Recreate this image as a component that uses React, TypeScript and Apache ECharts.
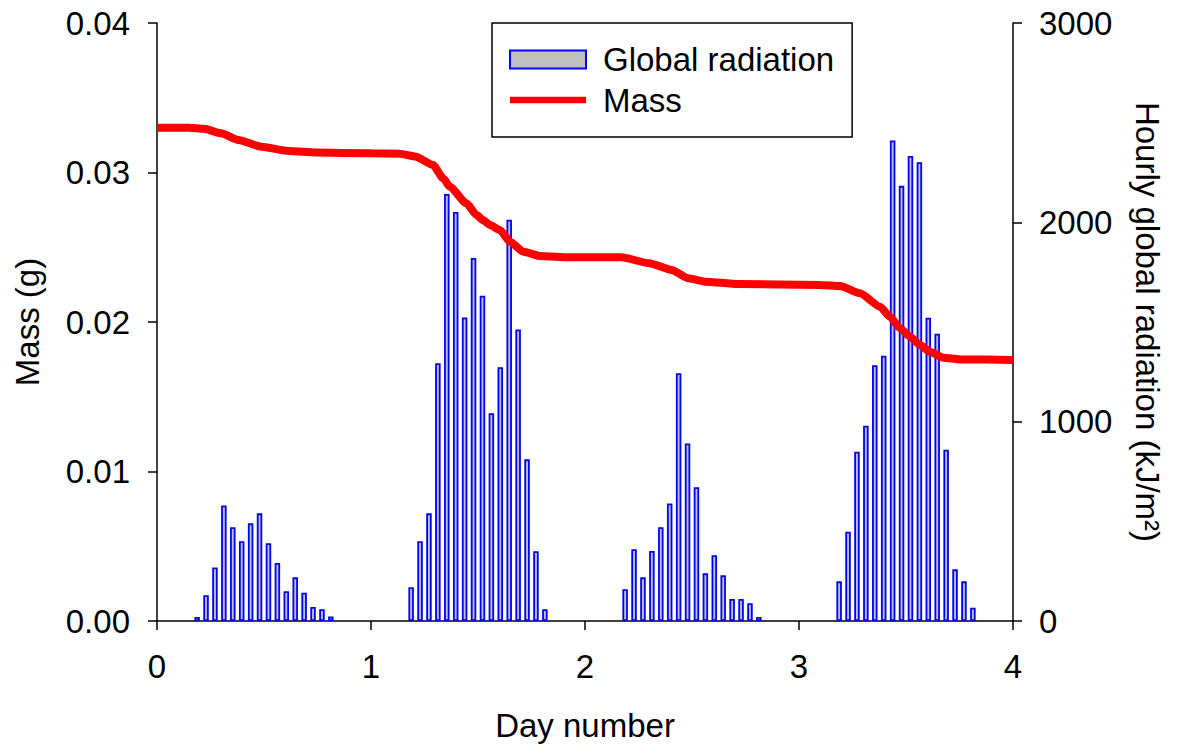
import React, { useEffect, useRef } from "react";
import * as echarts from "echarts";

// Hour mid-points of each hourly radiation bar (hours after midnight)
const hourMidpoints = [4.5, 5.5, 6.5, 7.5, 8.5, 9.5, 10.5, 11.5, 12.5, 13.5, 14.5, 15.5, 16.5, 17.5, 18.5, 19.5];
const dayStarts = [0, 1, 2, 3];

// Hourly global radiation (kJ/m2) for each day
const radiationDay1 = [20, 129, 269, 580, 470, 400, 490, 540, 390, 291, 149, 219, 142, 70, 59, 22];
const radiationDay2 = [169, 400, 540, 1293, 2142, 2052, 1523, 1821, 1632, 1042, 1273, 2013, 1462, 811, 350, 59];
const radiationDay3 = [159, 360, 219, 351, 470, 590, 1243, 891, 671, 239, 330, 229, 110, 110, 89, 20];
const radiationDay4 = [199, 448, 849, 980, 1283, 1331, 2411, 2183, 2333, 2302, 1521, 1441, 859, 259, 199, 67];
const radiationByDay = [radiationDay1, radiationDay2, radiationDay3, radiationDay4];

// Mass curve (g) against day number
const massDays = [0, 0.15, 0.22, 0.3, 0.38, 0.487, 0.617, 0.746, 1.0, 1.134, 1.21, 1.29, 1.338, 1.368, 1.446, 1.494, 1.523, 1.556, 1.603, 1.65, 1.712, 1.79, 1.93, 2.17, 2.3, 2.405, 2.483, 2.56, 2.715, 3.098, 3.192, 3.285, 3.379, 3.425, 3.472, 3.519, 3.565, 3.612, 3.674, 3.752, 4.0];
const massValues = [0.033, 0.033, 0.03292, 0.03262, 0.03217, 0.03173, 0.03144, 0.03133, 0.03128, 0.03126, 0.03106, 0.0305, 0.0296, 0.02905, 0.02794, 0.02715, 0.02682, 0.02649, 0.02615, 0.02537, 0.0247, 0.02441, 0.02433, 0.02433, 0.02393, 0.02348, 0.02292, 0.0227, 0.02254, 0.02248, 0.02241, 0.02192, 0.02102, 0.02035, 0.01958, 0.01902, 0.01846, 0.01801, 0.01761, 0.0175, 0.01746];

const xTicks = [0, 1, 2, 3, 4];
const massTicks = [0, 0.01, 0.02, 0.03, 0.04];
const radiationTicks = [0, 1000, 2000, 3000];

const FONT = "'Liberation Sans', Arial, Helvetica, sans-serif";
const FS = 33;

export default function App() {
  const ref = useRef<HTMLDivElement>(null);

  useEffect(() => {
    if (!ref.current) return;
    const chart = echarts.init(ref.current, null, { renderer: "svg" });

    const barData: [number, number][] = [];
    dayStarts.forEach((d, i) => {
      radiationByDay[i].forEach((v, j) => {
        barData.push([d + hourMidpoints[j] / 24, v]);
      });
    });
    const massData = massDays.map((d, i) => [d, massValues[i]]);

    const axisLine = { show: true, onZero: false, lineStyle: { color: "#000", width: 1.5 } };
    const axisTick = { show: true, inside: false, length: 9, lineStyle: { color: "#000", width: 1.5 } };

    chart.setOption({
      animation: false,
      backgroundColor: "#fff",
      textStyle: { fontFamily: FONT },
      grid: { left: 157, right: 164, top: 23, bottom: 130, containLabel: false },
      legend: {
        orient: "vertical",
        left: 492,
        top: 23,
        itemWidth: 76,
        itemHeight: 18,
        itemGap: 4.5,
        padding: [18.5, 18, 19, 17],
        borderColor: "#000",
        borderWidth: 1.5,
        backgroundColor: "#fff",
        textStyle: { fontSize: FS, color: "#000", fontFamily: FONT, lineHeight: 36, padding: [0, 0, 0, 12] },
        data: [
          { name: "Global radiation", icon: "rect" },
          {
            name: "Mass",
            icon: "path://M0,0H80V7H0Z",
            itemStyle: { color: "#ff0000", borderWidth: 0 },
          },
        ],
      },
      xAxis: {
        type: "value",
        min: xTicks[0],
        max: xTicks[xTicks.length - 1],
        interval: 1,
        name: "Day number",
        nameLocation: "middle",
        nameGap: 88,
        nameTextStyle: { fontSize: FS, color: "#000", fontFamily: FONT },
        axisLine,
        axisTick,
        splitLine: { show: false },
        axisLabel: { fontSize: FS, color: "#000", fontFamily: FONT, margin: 29 },
      },
      yAxis: [
        {
          type: "value",
          position: "left",
          min: massTicks[0],
          max: massTicks[massTicks.length - 1],
          interval: 0.01,
          name: "Mass (g)",
          nameLocation: "middle",
          nameRotate: 90,
          nameGap: 113,
          nameTextStyle: { fontSize: FS, color: "#000", fontFamily: FONT },
          axisLine,
          axisTick,
          splitLine: { show: false },
          axisLabel: {
            fontSize: FS,
            color: "#000",
            fontFamily: FONT,
            margin: 27,
            formatter: (v: number) => v.toFixed(2),
          },
        },
        {
          type: "value",
          position: "right",
          min: radiationTicks[0],
          max: radiationTicks[radiationTicks.length - 1],
          interval: 1000,
          name: "Hourly global radiation (kJ/m²)",
          nameLocation: "middle",
          nameRotate: -90,
          nameGap: 118,
          nameTextStyle: { fontSize: FS, color: "#000", fontFamily: FONT },
          axisLine,
          axisTick,
          splitLine: { show: false },
          axisLabel: {
            fontSize: FS,
            color: "#000",
            fontFamily: FONT,
            margin: 26,
            formatter: (v: number) => String(v),
          },
        },
      ],
      series: [
        {
          name: "Global radiation",
          type: "bar",
          xAxisIndex: 0,
          yAxisIndex: 1,
          barWidth: 5.5,
          data: barData,
          itemStyle: { color: "#c0c0c0", borderColor: "#0000ff", borderWidth: 1.8 },
          emphasis: { disabled: true },
        },
        {
          name: "Mass",
          type: "line",
          xAxisIndex: 0,
          yAxisIndex: 0,
          data: massData,
          showSymbol: false,
          symbol: "none",
          smooth: 0.2,
          smoothMonotone: "x",
          lineStyle: { color: "#ff0000", width: 8 },
          itemStyle: { color: "#ff0000" },
          z: 3,
          emphasis: { disabled: true },
        },
      ],
    });

    return () => chart.dispose();
  }, []);

  return (
    <div
      ref={ref}
      style={{ position: "fixed", left: 0, top: 0, width: 1177, height: 751, background: "#fff" }}
    />
  );
}
